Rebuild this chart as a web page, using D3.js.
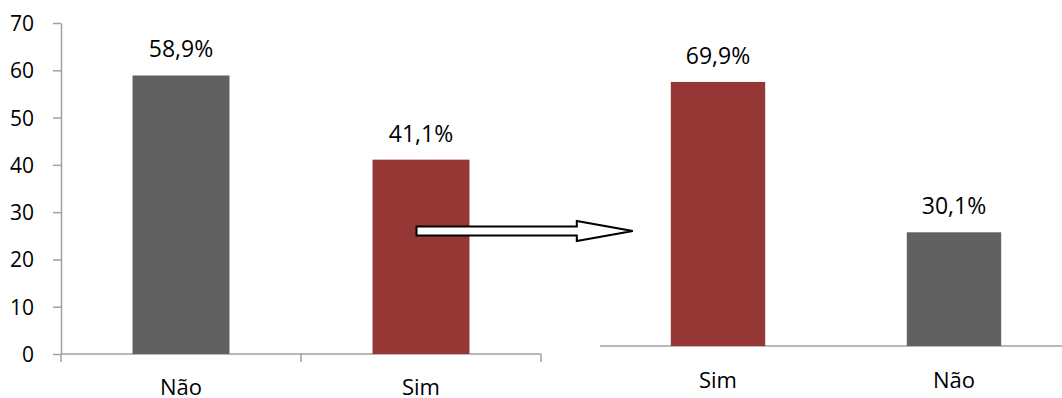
<!DOCTYPE html>
<html>
<head>
<meta charset="utf-8">
<script src="https://cdn.jsdelivr.net/npm/d3@7"></script>
<style>
  html, body { margin: 0; padding: 0; background: #fff; }
  svg { display: block; font-family: "Open Sans", "Noto Sans", sans-serif; }
  .yaxis text { font-size: 21px; font-family: "Open Sans", sans-serif; fill: #000; }
</style>
</head>
<body>
<svg id="chart" width="1062" height="398"></svg>
<script>
// Left chart data
const leftCategories = ["Não", "Sim"];
const leftValues = [58.9, 41.1];
const leftLabels = ["58,9%", "41,1%"];
// Right chart data
const rightCategories = ["Sim", "Não"];
const rightValues = [69.9, 30.1];
const rightLabels = ["69,9%", "30,1%"];
// Axis ticks
const yTicks = [0, 10, 20, 30, 40, 50, 60, 70];

const colorOf = { "Não": "#616161", "Sim": "#953735" };
const axisColor = "#a0a0a0";

const svg = d3.select("#chart");

// ---------- Left chart ----------
const xL = d3.scaleBand().domain(leftCategories).range([61, 541]).paddingInner(0.596).paddingOuter(0.298);
const yL = d3.scaleLinear().domain([0, 70]).range([354, 23]);

const yAxisG = svg.append("g")
  .attr("class", "yaxis")
  .attr("transform", `translate(${xL.range()[0]},0)`)
  .call(d3.axisLeft(yL).tickValues(yTicks).tickSize(8).tickSizeOuter(0).tickPadding(19));
yAxisG.attr("font-size", 21).attr("font-family", "'Open Sans', sans-serif");
yAxisG.select(".domain").attr("stroke", axisColor).attr("stroke-width", 1.5);
yAxisG.selectAll(".tick line").attr("stroke", axisColor).attr("stroke-width", 1.5);
yAxisG.selectAll(".tick text").attr("fill", "#000").attr("dy", "0.36em");

// x axis left
const stepL = xL.step();
const x0L = xL.range()[0], x1L = xL.range()[1];
svg.append("line").attr("x1", x0L).attr("x2", x1L)
  .attr("y1", yL(0)).attr("y2", yL(0))
  .attr("stroke", axisColor).attr("stroke-width", 1.5);
const bounds = d3.range(leftCategories.length + 1).map(i => x0L + i * stepL);
svg.selectAll(".xtickL").data(bounds).enter().append("line")
  .attr("x1", d => d).attr("x2", d => d)
  .attr("y1", yL(0)).attr("y2", yL(0) + 8)
  .attr("stroke", axisColor).attr("stroke-width", 1.5);

svg.selectAll(".barL").data(leftCategories).enter().append("rect")
  .attr("x", d => xL(d)).attr("width", xL.bandwidth())
  .attr("y", (d, i) => yL(leftValues[i]))
  .attr("height", (d, i) => yL(0) - yL(leftValues[i]))
  .attr("fill", d => colorOf[d]);

svg.selectAll(".lblL").data(leftCategories).enter().append("text")
  .attr("x", d => xL(d) + xL.bandwidth() / 2)
  .attr("y", (d, i) => yL(leftValues[i]) - 18)
  .attr("text-anchor", "middle").style("font-size", "23px").attr("fill", "#000")
  .text((d, i) => leftLabels[i]);

svg.selectAll(".catL").data(leftCategories).enter().append("text")
  .attr("x", d => xL(d) + xL.bandwidth() / 2)
  .attr("y", yL(0) + 41)
  .attr("text-anchor", "middle").style("font-size", "22px").attr("fill", "#000")
  .text(d => d);

// ---------- Right chart ----------
const xR = d3.scaleBand().domain(rightCategories).range([600, 1072]).paddingInner(0.6).paddingOuter(0.3);
const yR = d3.scaleLinear().domain([0, 80]).range([346, 43.8]);

svg.append("line").attr("x1", 600).attr("x2", 1062)
  .attr("y1", yR(0)).attr("y2", yR(0))
  .attr("stroke", axisColor).attr("stroke-width", 1.5);

svg.selectAll(".barR").data(rightCategories).enter().append("rect")
  .attr("x", d => xR(d)).attr("width", xR.bandwidth())
  .attr("y", (d, i) => yR(rightValues[i]))
  .attr("height", (d, i) => yR(0) - yR(rightValues[i]))
  .attr("fill", d => colorOf[d]);

svg.selectAll(".lblR").data(rightCategories).enter().append("text")
  .attr("x", d => xR(d) + xR.bandwidth() / 2)
  .attr("y", (d, i) => yR(rightValues[i]) - 18)
  .attr("text-anchor", "middle").style("font-size", "23px").attr("fill", "#000")
  .text((d, i) => rightLabels[i]);

svg.selectAll(".catR").data(rightCategories).enter().append("text")
  .attr("x", d => xR(d) + xR.bandwidth() / 2)
  .attr("y", yR(0) + 42)
  .attr("text-anchor", "middle").style("font-size", "22px").attr("fill", "#000")
  .text(d => d);

// ---------- Arrow annotation ----------
const ax0 = xL("Sim") + xL.bandwidth() / 2 - 4.5;
const ay = yL(26);
const tipX = xR("Sim") - 38;
const headBase = tipX - 56;
const shaftH = 4.5, headH = 10;
const arrowPath = d3.path();
arrowPath.moveTo(ax0, ay - shaftH);
arrowPath.lineTo(headBase, ay - shaftH);
arrowPath.lineTo(headBase, ay - headH);
arrowPath.lineTo(tipX, ay);
arrowPath.lineTo(headBase, ay + headH);
arrowPath.lineTo(headBase, ay + shaftH);
arrowPath.lineTo(ax0, ay + shaftH);
arrowPath.closePath();
svg.append("path").attr("d", arrowPath.toString())
  .attr("fill", "#fff").attr("stroke", "#000").attr("stroke-width", 2)
  .attr("stroke-linejoin", "miter");
</script>
</body>
</html>
